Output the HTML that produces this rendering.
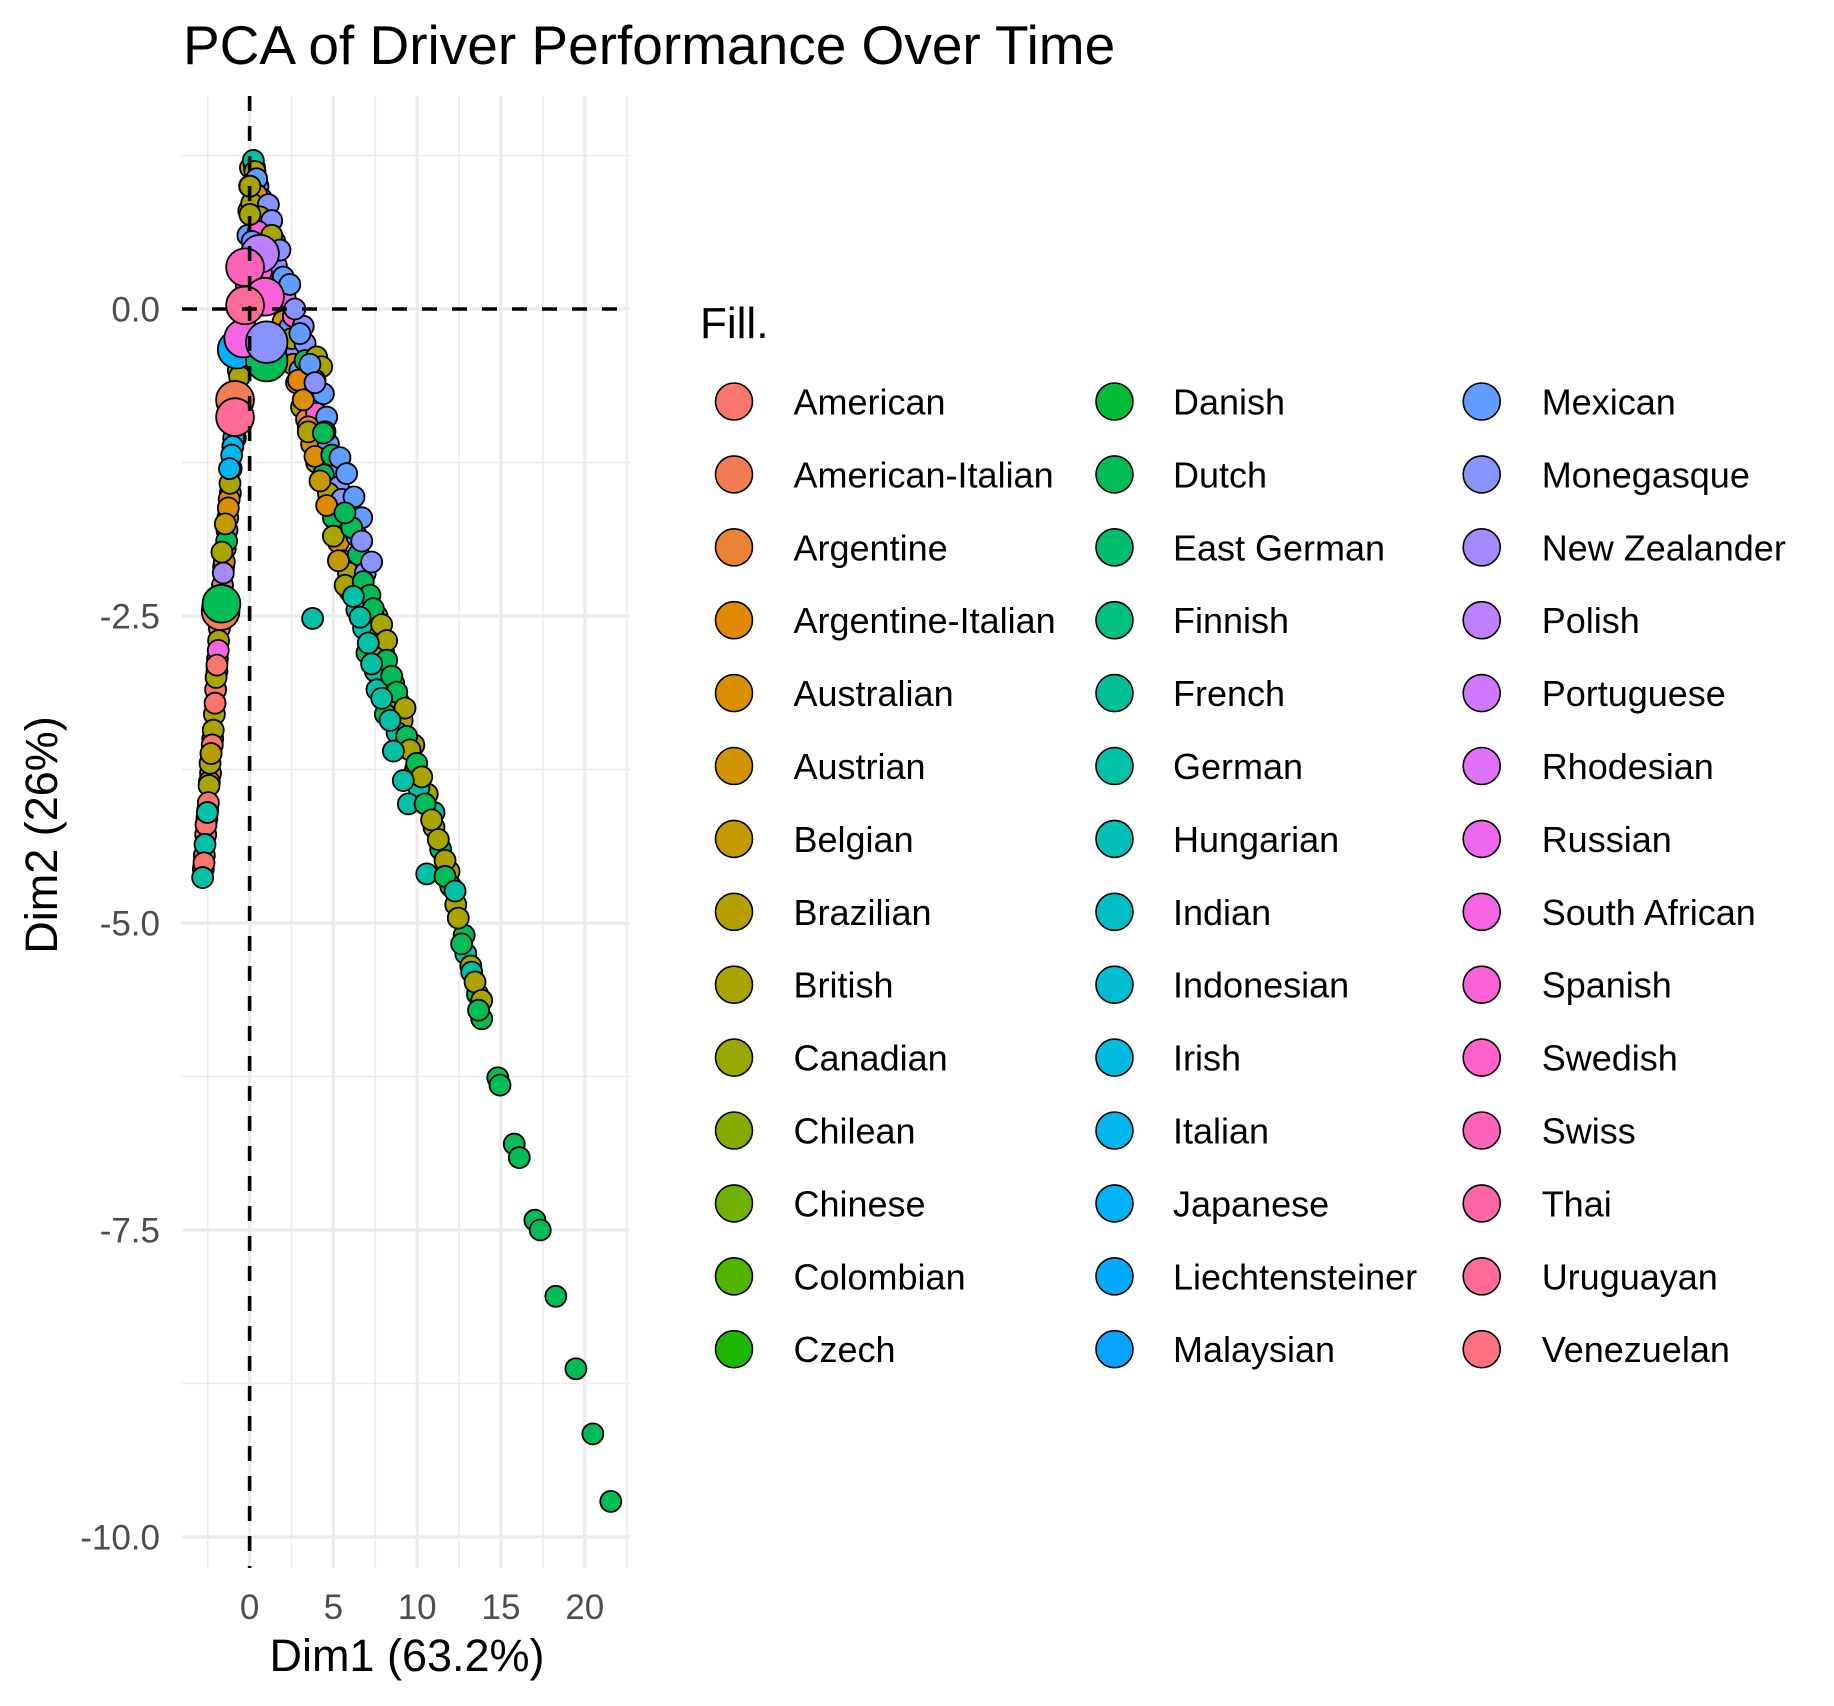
<!DOCTYPE html>
<html><head><meta charset="utf-8"><style>
html,body{margin:0;padding:0;background:#fff;}
svg{display:block;font-family:"Liberation Sans",Arial,sans-serif;}
</style></head><body>
<svg id="chart" width="1834" height="1706" viewBox="0 0 1834 1706" xmlns="http://www.w3.org/2000/svg">
<rect width="1834" height="1706" fill="#fff"/>
<text x="183" y="64" font-size="55" fill="#000">PCA of Driver Performance Over Time</text>
<g id="grid"></g>
<g id="points"></g>
<g id="refs"></g>
<g id="yticks"></g>
<g id="xticks"></g>
<text x="407" y="1671" font-size="45" text-anchor="middle" fill="#000">Dim1 (63.2%)</text>
<text transform="translate(57,835) rotate(-90)" font-size="45" text-anchor="middle" fill="#000">Dim2 (26%)</text>
<text x="700" y="338" font-size="44" fill="#000">Fill.</text>
<g id="legend"></g>
</svg>
<script>
const categories = ["American","American-Italian","Argentine","Argentine-Italian","Australian","Austrian","Belgian","Brazilian","British","Canadian","Chilean","Chinese","Colombian","Czech","Danish","Dutch","East German","Finnish","French","German","Hungarian","Indian","Indonesian","Irish","Italian","Japanese","Liechtensteiner","Malaysian","Mexican","Monegasque","New Zealander","Polish","Portuguese","Rhodesian","Russian","South African","Spanish","Swedish","Swiss","Thai","Uruguayan","Venezuelan"];
const xTicks = [0,5,10,15,20];
const xTickLabels = ["0","5","10","15","20"];
const yTicks = [0,-2.5,-5,-7.5,-10];
const yTickLabels = ["0.0","-2.5","-5.0","-7.5","-10.0"];
// dense band of drivers (drawn first)
const bandX = [
 0.05,0.0,-0.05,-0.1,-0.2,-0.3,-0.45,-0.55,-0.75,-0.85,-1.1,-1.15,-1.22,-1.3,-1.35,-1.45,-1.55,-1.62,-1.68,-1.8,-1.85,-1.92,-1.95,-2.03,-2.1,-2.2,-2.3,-2.33,-2.4,-2.5,-2.55,-2.62,-2.7,-2.76,
 0.3,0.5,0.7,0.9,0.6,1.0,0.8,1.5,1.2,1.6,1.4,1.9,1.7,2.2,2.0,2.4,2.3,2.8,2.6,3.0,2.8,3.6,3.1,3.8,3.4,4.1,3.7,4.7,4.0,5.0,4.4,5.3,4.7,5.5,5.0,6.0,5.3,6.4,5.6,6.5,5.9,6.9,6.0,7.0,6.4,7.6,6.8,7.8,7.0,8.0,7.5,8.6,7.6,8.9,8.1,9.1,8.8,9.8,9.9,10.6,10.1,11.0,11.4,11.0,11.9,12.0,12.3,12.8,12.9,13.2,13.6
];
const bandY = [
 1.15,1.0,0.8,0.6,0.2,-0.1,-0.4,-0.7,-0.95,-1.05,-1.3,-1.5,-1.55,-1.7,-1.8,-1.95,-2.1,-2.25,-2.35,-2.6,-2.7,-2.85,-2.95,-3.1,-3.3,-3.5,-3.62,-3.78,-3.85,-4.08,-4.15,-4.28,-4.45,-4.56,
 1.15,1.0,0.9,0.8,0.8,0.65,0.55,0.55,0.4,0.35,0.2,0.2,0.05,0.05,-0.1,-0.15,-0.3,-0.35,-0.45,-0.5,-0.6,-0.65,-0.8,-0.8,-0.9,-0.95,-1.1,-1.1,-1.25,-1.3,-1.35,-1.45,-1.5,-1.55,-1.7,-1.65,-1.9,-1.85,-2.05,-2.0,-2.15,-2.15,-2.3,-2.4,-2.45,-2.5,-2.6,-2.65,-2.8,-2.8,-2.95,-3.05,-3.1,-3.2,-3.3,-3.35,-3.45,-3.55,-3.75,-3.95,-3.9,-4.22,-4.4,-4.1,-4.58,-4.7,-4.85,-5.1,-5.25,-5.35,-5.58
];
const bandCat = [
 8,4,8,28,36,8,8,24,24,8,24,8,4,8,30,4,8,0,36,0,8,0,8,0,8,0,8,0,8,0,19,0,0,19,
 8,28,29,4,8,29,36,28,8,29,2,28,8,29,4,28,8,29,3,28,4,28,8,28,2,29,4,28,8,28,15,29,8,29,15,28,4,29,19,15,8,29,36,15,19,8,19,8,15,8,19,15,19,8,15,8,19,8,15,8,19,8,15,19,8,15,8,15,19,8,15
];
// notable points: Dim1, Dim2, nationality index, size class
const ptX = [
 0.22,0.32,0.42,0.42,0.12,1.12,0.62,1.32,0.52,1.32,1.81,0.02,2.01,2.11,2.61,3.20,2.51,3.31,3.31,4.00,4.30,3.90,4.40,4.00,4.60,4.50,2.91,3.20,3.50,0.02,0.15,0.30,0.70,0.90,2.40,2.70,3.00,3.60,3.90,
 -0.67,-0.95,-1.00,-0.60,
 -1.07,-1.17,-1.27,-1.37,-1.51,-1.57,-1.87,-2.00,-2.06,-2.17,-2.23,-2.36,-2.42,-2.46,-2.60,-2.66,-2.72,-2.80,-1.20,-1.45,-1.65,-1.95,-2.30,-2.52,
 3.50,3.90,4.20,4.60,5.00,5.30,5.70,
 4.40,4.90,5.39,5.79,6.23,6.69,6.09,5.69,6.69,7.28,6.78,7.18,6.19,7.38,6.59,7.88,8.18,7.08,8.18,7.28,8.48,8.78,7.88,9.27,8.38,9.37,9.57,8.58,9.97,10.27,9.17,9.47,10.47,10.86,11.26,10.57,11.66,11.66,12.26,12.45,12.65,13.25,13.45,13.85,13.85,13.66,
 3.76,
 14.81,14.94,15.79,16.09,17.02,17.34,18.27,19.47,20.48,21.55,
 0.62,-0.27,0.92,-0.77,1.02,-0.38,-0.27,-0.87,-0.87,1.02,-1.73,-1.68
];
const ptY = [
 1.21,1.12,1.06,0.93,0.86,0.85,0.75,0.72,0.63,0.60,0.48,0.77,0.26,0.10,-0.06,-0.14,-0.24,-0.28,-0.42,-0.39,-0.47,-0.58,-0.69,-0.85,-0.88,-1.00,-0.58,-0.74,-0.96,1.00,0.55,0.40,0.30,0.45,0.20,0.00,-0.20,-0.45,-0.60,
 -0.50,-1.05,-1.12,-0.55,
 -1.19,-1.42,-1.62,-1.89,-2.06,-2.15,-2.78,-3.00,-3.21,-3.43,-3.55,-3.70,-3.88,-4.02,-4.20,-4.36,-4.51,-4.63,-1.30,-1.75,-1.98,-2.90,-3.62,-4.10,
 -1.00,-1.20,-1.40,-1.60,-1.85,-2.05,-2.25,
 -1.01,-1.19,-1.21,-1.34,-1.53,-1.70,-1.78,-1.66,-1.89,-2.06,-2.22,-2.33,-2.34,-2.44,-2.51,-2.57,-2.70,-2.72,-2.86,-2.89,-2.99,-3.12,-3.17,-3.25,-3.35,-3.48,-3.59,-3.60,-3.70,-3.81,-3.84,-4.03,-4.03,-4.16,-4.32,-4.60,-4.49,-4.62,-4.74,-4.96,-5.17,-5.40,-5.48,-5.63,-5.78,-5.71,
 -2.52,
 -6.26,-6.32,-6.80,-6.91,-7.42,-7.50,-8.04,-8.63,-9.16,-9.71,
 0.45,0.34,0.10,-0.33,-0.42,-0.24,0.03,-0.74,-0.88,-0.27,-2.46,-2.40
];
const ptCat = [
 19,8,28,4,8,29,8,29,36,8,29,8,28,35,37,29,8,29,15,8,8,28,28,37,28,15,3,4,2,8,28,19,36,37,28,29,28,28,29,
 8,24,24,8,
 24,8,4,15,4,30,35,8,0,8,0,8,8,0,0,19,0,19,24,6,8,0,7,19,
 8,4,6,3,8,6,8,
 15,15,28,28,28,28,15,15,29,29,15,15,19,15,19,8,8,19,15,19,15,15,19,8,19,15,8,19,15,8,19,19,15,8,8,19,8,15,19,8,15,19,8,8,15,15,
 19,
 15,15,15,15,15,15,15,15,15,15,
 31,38,36,25,15,35,40,1,40,29,1,15
];
const ptSize = [
 1,1,1,1,1,1,1,1,1,1,1,1,1,1,1,1,1,1,1,1,1,1,1,1,1,1,1,1,1,1,1,1,1,1,1,1,1,1,1,
 1,1,1,1,
 1,1,1,1,1,1,1,1,1,1,1,1,1,1,1,1,1,1,1,1,1,1,1,1,
 1,1,1,1,1,1,1,
 1,1,1,1,1,1,1,1,1,1,1,1,1,1,1,1,1,1,1,1,1,1,1,1,1,1,1,1,1,1,1,1,1,1,1,1,1,1,1,1,1,1,1,1,1,1,
 1,
 1,1,1,1,1,1,1,1,1,1,
 2,2,2,2,2.2,2,2,2,2,2.2,2,2
];

const NS = "http://www.w3.org/2000/svg";
const PX0 = 182, PX1 = 630, PY0 = 96, PY1 = 1568;
function sx(v){ return 249.6 + v * 16.76; }
function sy(v){ return 309 - v * 122.8; }
function hcl(h, c, l){
  const Xn=95.047,Yn=100,Zn=108.883;
  const Y = Yn*Math.pow((l+16)/116,3);
  const u = c*Math.cos(h*Math.PI/180), v = c*Math.sin(h*Math.PI/180);
  const den = Xn+15*Yn+3*Zn, un = 4*Xn/den, vn = 9*Yn/den;
  const up = u/(13*l)+un, vp = v/(13*l)+vn;
  const X = Y*9*up/(4*vp), Z = Y*(12-3*up-20*vp)/(4*vp);
  const x=X/100,y=Y/100,z=Z/100;
  let r = 3.2404542*x-1.5371385*y-0.4985314*z;
  let g = -0.9692660*x+1.8760108*y+0.0415560*z;
  let b = 0.0556434*x-0.2040259*y+1.0572252*z;
  const gam = t => { t = t<=0.0031308 ? 12.92*t : 1.055*Math.pow(t,1/2.4)-0.055; return Math.round(Math.max(0,Math.min(1,t))*255); };
  return "rgb("+gam(r)+","+gam(g)+","+gam(b)+")";
}
const n = categories.length;
function catColor(i){ return hcl(15 + 360*i/n, 100, 65); }

const grid = document.getElementById("grid");
function line(parent, x1,y1,x2,y2, stroke, w, dash){
  const l = document.createElementNS(NS,"line");
  l.setAttribute("x1",x1);l.setAttribute("y1",y1);l.setAttribute("x2",x2);l.setAttribute("y2",y2);
  l.setAttribute("stroke",stroke);l.setAttribute("stroke-width",w);
  if(dash) l.setAttribute("stroke-dasharray",dash);
  parent.appendChild(l);
  return l;
}
[-2.5,2.5,7.5,12.5,17.5,22.5].forEach(v=>{
  const l = line(grid, sx(v),PY0,sx(v),PY1,"#ebebeb",1.6);
  
  
});
xTicks.forEach(v=>{
  const l = line(grid, sx(v),PY0,sx(v),PY1,"#ebebeb",3.2);
  
  
});
[1.25,-1.25,-3.75,-6.25,-8.75].forEach(v=>{
  const l = line(grid, PX0,sy(v),PX1,sy(v),"#ebebeb",1.6);
  
  
});
yTicks.forEach(v=>{
  const l = line(grid, PX0,sy(v),PX1,sy(v),"#ebebeb",3.2);
  
  
});

const pts = document.getElementById("points");
function addPoint(x, y, cat, size){
  const c = document.createElementNS(NS,"circle");
  c.setAttribute("cx", sx(x));
  c.setAttribute("cy", sy(y));
  c.setAttribute("r", 10.5*(size>1 ? size*0.9 : 1));
  c.setAttribute("fill", catColor(cat));
  c.setAttribute("stroke","#000");
  c.setAttribute("stroke-width","1.8");
  
  
  pts.appendChild(c);
}
for(let i=0;i<bandX.length;i++) addPoint(bandX[i], bandY[i], bandCat[i], 1);
for(let i=0;i<ptX.length;i++) addPoint(ptX[i], ptY[i], ptCat[i], ptSize[i]);

const refs = document.getElementById("refs");
const vl = line(refs, sx(0),PY0,sx(0),PY1,"#000",3.6,"15 15");


const hl = line(refs, PX0,sy(0),PX1,sy(0),"#000",3.6,"15 15");



const yt = document.getElementById("yticks");
yTicks.forEach((v,i)=>{
  const t = document.createElementNS(NS,"text");
  t.setAttribute("x",160); t.setAttribute("y",sy(v)+12.5);
  t.setAttribute("text-anchor","end"); t.setAttribute("font-size","35"); t.setAttribute("fill","#4d4d4d");
  t.textContent = yTickLabels[i];
  
  
  yt.appendChild(t);
});
const xt = document.getElementById("xticks");
xTicks.forEach((v,i)=>{
  const t = document.createElementNS(NS,"text");
  t.setAttribute("x",sx(v)); t.setAttribute("y",1619);
  t.setAttribute("text-anchor","middle"); t.setAttribute("font-size","35"); t.setAttribute("fill","#4d4d4d");
  t.textContent = xTickLabels[i];
  
  
  xt.appendChild(t);
});

const lg = document.getElementById("legend");
const colCircle = [734, 1114.5, 1481.7], colText = [793.5, 1173, 1541.7];
categories.forEach((name,i)=>{
  const col = Math.floor(i/14), row = i%14;
  const cy = 401.5 + row*72.9;
  const g = document.createElementNS(NS,"g");
  
  
  const c = document.createElementNS(NS,"circle");
  c.setAttribute("cx",colCircle[col]); c.setAttribute("cy",cy); c.setAttribute("r",18.5);
  c.setAttribute("fill",catColor(i)); c.setAttribute("stroke","#000"); c.setAttribute("stroke-width","1.6");
  
  
  const t = document.createElementNS(NS,"text");
  t.setAttribute("x",colText[col]); t.setAttribute("y",cy+13);
  t.setAttribute("font-size","36"); t.setAttribute("fill","#000");
  t.textContent = name;
  
  
  g.appendChild(c); g.appendChild(t); lg.appendChild(g);
});
</script>
</body></html>
